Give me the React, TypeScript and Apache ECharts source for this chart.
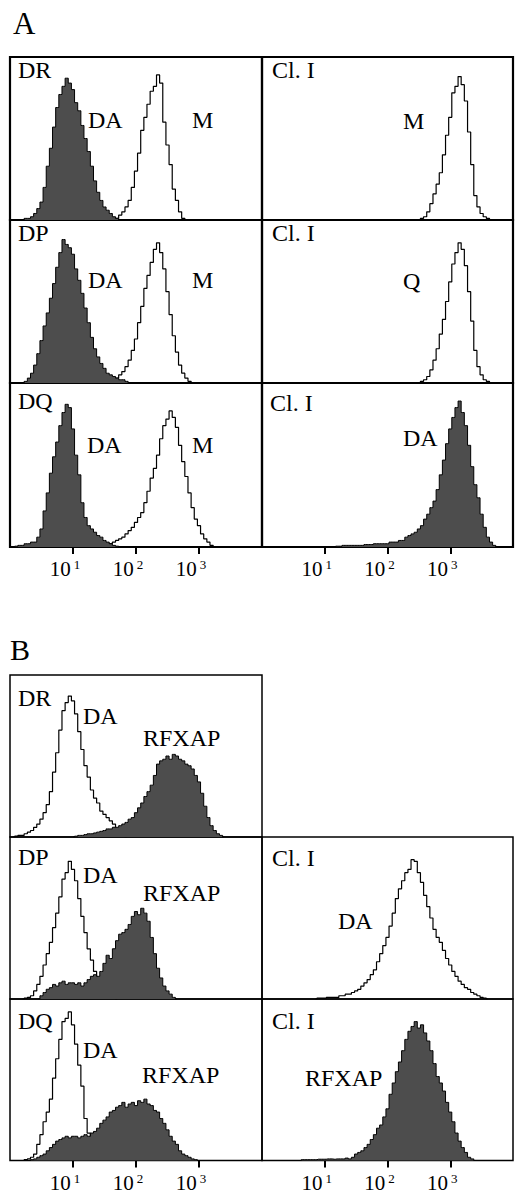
import React, { useEffect, useRef } from "react";
import * as echarts from "echarts";

// ---- histogram bin grid (20 channels per decade, 1 .. 10^4) ----
const MANTISSA = [1, 1.12, 1.26, 1.41, 1.58, 1.78, 2, 2.24, 2.51, 2.82, 3.16, 3.55, 3.98, 4.47, 5.01, 5.62, 6.31, 7.08, 7.94, 8.91];
const DECADES = [1, 10, 100, 1000];
const BINS: number[] = [...DECADES.flatMap((d) => MANTISSA.map((m) => +(m * d).toPrecision(3))), 10000];

// ---- tick labels (exponents of 10) ----
const TICK_EXPONENTS = [1, 2, 3];

// ---- panel A: counts (% of panel height) per bin, starting at *_START bin ----
const A_DR_DA_START = 4;
const A_DR_DA = [0, 1, 1, 2, 4, 7, 11, 20, 33, 44, 57, 69, 77, 82, 87, 84, 80, 72, 67, 58, 50, 42, 33, 24, 17, 12, 8, 6, 4, 2, 1, 0];
const A_DR_M_START = 33;
const A_DR_M = [0, 1, 3, 5, 8, 12, 20, 30, 41, 55, 63, 71, 79, 82, 89, 84, 60, 46, 34, 19, 12, 5, 1, 0];
const A_CL1_M_START = 50;
const A_CL1_M = [0, 1, 2, 5, 10, 16, 22, 29, 40, 52, 63, 78, 82, 88, 83, 73, 54, 34, 15, 8, 4, 2, 1, 0];

const A_DP_DA_START = 4;
const A_DP_DA = [0, 1, 3, 6, 11, 18, 26, 35, 43, 52, 61, 71, 80, 88, 85, 83, 79, 70, 63, 55, 46, 37, 28, 21, 16, 12, 9, 6, 5, 4, 3, 2, 2, 1, 0];
const A_DP_M_START = 31;
const A_DP_M = [0, 1, 2, 3, 5, 7, 10, 14, 20, 27, 37, 47, 58, 66, 74, 82, 86, 80, 70, 56, 42, 29, 19, 11, 6, 3, 1, 0];
const A_CL2_Q_START = 50;
const A_CL2_Q = [0, 1, 2, 4, 8, 14, 21, 30, 39, 50, 62, 73, 80, 86, 82, 72, 56, 38, 20, 10, 5, 2, 1, 0];

const A_DQ_DA_START = 1;
const A_DQ_DA = [0, 0.5, 1, 1, 2, 2, 3, 3, 6, 11, 22, 33, 45, 55, 64, 74, 82, 87, 85, 72, 56, 44, 27, 18, 13, 11, 9, 7, 6, 4, 3, 2, 1, 0.5, 0];
const A_DQ_M_START = 30;
const A_DQ_M = [0, 1, 2, 3, 4, 5, 6, 8, 10, 12, 15, 18, 21, 27, 34, 42, 48, 56, 66, 74, 78, 83, 79, 73, 62, 52, 43, 33, 24, 17, 13, 8, 5, 3, 1, 0];
const A_CL3_DA_START = 23;
const A_CL3_DA = [0, 0.5, 0.5, 1, 1, 1, 1, 1, 1, 1, 1.5, 1.5, 1.5, 2, 2, 2, 2, 2, 3, 3, 3, 4, 4, 6, 7, 8, 9, 11, 13, 17, 20, 24, 28, 35, 44, 53, 63, 72, 79, 85, 89, 82, 74, 62, 49, 38, 30, 20, 12, 6, 3, 1, 0];

// ---- panel B ----
const B_DR_DA_START = 1;
const B_DR_DA = [0, 0.5, 1, 1, 2, 3, 4, 6, 8, 11, 15, 20, 28, 40, 52, 66, 78, 83, 87, 84, 76, 65, 54, 44, 37, 29, 24, 21, 16, 14, 12, 10, 8, 5, 3, 1, 0];
const B_DR_RFXAP_START = 20;
const B_DR_RFXAP = [0, 0.5, 1, 1, 1.5, 2, 2, 2.5, 3, 3.5, 4, 5, 5, 6, 6, 7, 8, 9, 11, 12, 15, 18, 21, 25, 28, 32, 38, 45, 47, 48, 50, 48, 51, 50, 48, 47, 45, 44, 42, 38, 34, 27, 19, 12, 7, 4, 2, 1, 0];

const B_DP_DA_START = 4;
const B_DP_DA = [0, 0.5, 1, 2, 5, 9, 14, 21, 28, 35, 44, 53, 63, 74, 78, 85, 80, 73, 62, 51, 41, 31, 24, 17, 13, 10, 7, 4, 2, 1, 0];
const B_DP_RFXAP_START = 9;
const B_DP_RFXAP = [0, 2, 4, 6, 7, 9, 8, 10, 11, 9, 10, 10, 9, 10, 8, 10, 12, 14, 15, 14, 17, 22, 27, 25, 31, 36, 40, 41, 43, 46, 51, 54, 52, 56, 53, 48, 38, 28, 19, 13, 8, 5, 3, 1, 0];
const B_CL2_DA_START = 17;
const B_CL2_DA = [0, 0.5, 0.5, 0.5, 1, 1, 1, 1, 2, 2, 3, 3, 4, 5, 6, 8, 10, 12, 15, 18, 23, 28, 33, 38, 45, 53, 62, 68, 73, 78, 80, 86, 85, 78, 72, 64, 57, 50, 43, 38, 35, 30, 25, 21, 17, 14, 11, 9, 7, 6, 4, 3, 2, 1, 0.5, 0];

const B_DQ_DA_START = 4;
const B_DQ_DA = [0, 0.5, 1, 2, 4, 10, 16, 24, 30, 38, 51, 63, 75, 86, 88, 92, 84, 72, 59, 46, 26, 17, 11, 7, 4, 2, 0];
const B_DQ_RFXAP_START = 6;
const B_DQ_RFXAP = [0, 0.5, 1, 2, 3, 4, 6, 8, 10, 12, 13, 14, 15, 14, 15, 15, 14, 15, 16, 15, 17, 18, 20, 23, 25, 27, 30, 31, 33, 34, 36, 33, 35, 36, 34, 37, 36, 38, 35, 34, 31, 30, 26, 23, 19, 15, 12, 10, 6, 4, 3, 2, 1, 0.5, 0];
const B_CL3_RFXAP_START = 12;
const B_CL3_RFXAP = [0, 0.5, 0.5, 0.5, 0.5, 0.5, 0.8, 0.8, 0.8, 1, 1, 0.8, 1, 1, 1, 1.5, 1, 2, 4, 5, 6, 8, 10, 13, 16, 20, 22, 27, 32, 41, 48, 55, 61, 68, 75, 80, 83, 86, 82, 84, 79, 74, 68, 60, 52, 48, 43, 36, 30, 24, 17, 12, 8, 5, 2, 1, 0];

// ---- layout ----
const SERIF = "Liberation Serif";
const FILL = "#4d4d4d";
const A_BORDER = 2.2;
const B_BORDER = 1.5;

type Panel = { left: number; top: number; width: number; height: number; border: number; ticks: boolean };
const PANELS: Panel[] = [
  { left: 10, top: 57, width: 252, height: 163, border: A_BORDER, ticks: false }, // 0 A DR
  { left: 262, top: 57, width: 251, height: 163, border: A_BORDER, ticks: false }, // 1 A Cl I
  { left: 10, top: 220, width: 252, height: 163, border: A_BORDER, ticks: false }, // 2 A DP
  { left: 262, top: 220, width: 251, height: 163, border: A_BORDER, ticks: false }, // 3 A Cl I
  { left: 10, top: 383, width: 252, height: 164, border: A_BORDER, ticks: true }, // 4 A DQ
  { left: 262, top: 383, width: 251, height: 164, border: A_BORDER, ticks: true }, // 5 A Cl I
  { left: 10, top: 675, width: 252, height: 162, border: B_BORDER, ticks: false }, // 6 B DR
  { left: 10, top: 837, width: 252, height: 162, border: B_BORDER, ticks: false }, // 7 B DP
  { left: 262, top: 837, width: 251, height: 162, border: B_BORDER, ticks: false }, // 8 B Cl I
  { left: 10, top: 999, width: 252, height: 163, border: B_BORDER, ticks: true }, // 9 B DQ
  { left: 262, top: 999, width: 251, height: 163, border: B_BORDER, ticks: true }, // 10 B Cl I
];

type Curve = { panel: number; start: number; counts: number[]; filled: boolean };
const CURVES: Curve[] = [
  { panel: 0, start: A_DR_M_START, counts: A_DR_M, filled: false },
  { panel: 0, start: A_DR_DA_START, counts: A_DR_DA, filled: true },
  { panel: 1, start: A_CL1_M_START, counts: A_CL1_M, filled: false },
  { panel: 2, start: A_DP_M_START, counts: A_DP_M, filled: false },
  { panel: 2, start: A_DP_DA_START, counts: A_DP_DA, filled: true },
  { panel: 3, start: A_CL2_Q_START, counts: A_CL2_Q, filled: false },
  { panel: 4, start: A_DQ_M_START, counts: A_DQ_M, filled: false },
  { panel: 4, start: A_DQ_DA_START, counts: A_DQ_DA, filled: true },
  { panel: 5, start: A_CL3_DA_START, counts: A_CL3_DA, filled: true },
  { panel: 6, start: B_DR_DA_START, counts: B_DR_DA, filled: false },
  { panel: 6, start: B_DR_RFXAP_START, counts: B_DR_RFXAP, filled: true },
  { panel: 7, start: B_DP_DA_START, counts: B_DP_DA, filled: false },
  { panel: 7, start: B_DP_RFXAP_START, counts: B_DP_RFXAP, filled: true },
  { panel: 8, start: B_CL2_DA_START, counts: B_CL2_DA, filled: false },
  { panel: 9, start: B_DQ_DA_START, counts: B_DQ_DA, filled: false },
  { panel: 9, start: B_DQ_RFXAP_START, counts: B_DQ_RFXAP, filled: true },
  { panel: 10, start: B_CL3_RFXAP_START, counts: B_CL3_RFXAP, filled: true },
];

// text annotations: [text, x, middle-y, fontSize]
const LABELS: [string, number, number, number][] = [
  ["A", 13, 23, 31],
  ["DR", 18, 70, 24], ["DA", 88, 120, 24], ["M", 192, 120, 24],
  ["Cl. I", 272, 70, 24], ["M", 403, 121, 24],
  ["DP", 18, 233, 24], ["DA", 88, 280, 24], ["M", 192, 280, 24],
  ["Cl. I", 272, 233, 24], ["Q", 403, 281, 24],
  ["DQ", 18, 401, 24], ["DA", 87, 445, 24], ["M", 192, 445, 24],
  ["Cl. I", 270, 403, 24], ["DA", 403, 438, 24],
  ["B", 10, 649, 30],
  ["DR", 18, 698, 24], ["DA", 83, 716, 24], ["RFXAP", 143, 738, 24],
  ["DP", 18, 857, 24], ["DA", 83, 875, 24], ["RFXAP", 143, 893, 24],
  ["Cl. I", 272, 858, 24], ["DA", 338, 921, 24],
  ["DQ", 18, 1021, 24], ["DA", 83, 1050, 24], ["RFXAP", 142, 1075, 24],
  ["Cl. I", 272, 1021, 24], ["RFXAP", 305, 1078, 24],
];

function buildOption(): echarts.EChartsCoreOption {
  const grid = PANELS.map((p) => ({
    left: p.left, top: p.top, width: p.width, height: p.height,
    show: true, borderColor: "#000", borderWidth: p.border, backgroundColor: "transparent",
  }));
  const xAxis: any[] = PANELS.map((_, i) => ({
    gridIndex: i, type: "log", logBase: 10, min: 1, max: 10000, show: false,
  }));
  PANELS.forEach((p, i) => {
    if (!p.ticks) return;
    xAxis.push({
      gridIndex: i, type: "value", min: 0, max: 4, position: "bottom",
      axisLine: { show: false }, splitLine: { show: false },
      axisTick: { show: true, customValues: TICK_EXPONENTS, length: 7, lineStyle: { color: "#000", width: 2 } },
      axisLabel: {
        customValues: TICK_EXPONENTS, margin: 11, color: "#000",
        fontFamily: SERIF, fontSize: 21,
        formatter: (v: number) => `{b|10}{s|${v}}`,
        rich: {
          b: { fontFamily: SERIF, fontSize: 21, lineHeight: 22, color: "#000" },
          s: { fontFamily: SERIF, fontSize: 13, lineHeight: 13, verticalAlign: "top", padding: [0, 16, 0, 3], color: "#000" },
        },
      },
    });
  });
  const yAxis = PANELS.map((_, i) => ({ gridIndex: i, type: "value", min: 0, max: 100, show: false }));
  const series = CURVES.map((c) => ({
    type: "line",
    xAxisIndex: c.panel, yAxisIndex: c.panel,
    step: "middle", symbol: "none", silent: true,
    data: c.counts.map((v, j) => [BINS[c.start + j], v]),
    lineStyle: { color: "#000", width: c.filled ? 1 : 1.2 },
    areaStyle: c.filled ? { color: FILL, opacity: 1 } : undefined,
    z: c.filled ? 3 : 2,
  }));
  const graphic = LABELS.map(([text, x, y, size]) => ({
    type: "text", x, y, silent: true,
    style: { text, fontFamily: SERIF, fontSize: size, fill: "#000", align: "left", verticalAlign: "middle" },
  }));
  return {
    animation: false, backgroundColor: "#fff",
    textStyle: { fontFamily: SERIF, color: "#000" },
    grid, xAxis, yAxis, series, graphic,
  };
}

export default function App() {
  const ref = useRef<HTMLDivElement>(null);
  useEffect(() => {
    if (!ref.current) return;
    const chart = echarts.init(ref.current, undefined, { renderer: "svg" });
    chart.setOption(buildOption());
    return () => chart.dispose();
  }, []);
  return (
    <div
      ref={ref}
      style={{ position: "absolute", left: 0, top: 0, width: 515, height: 1193, background: "#fff" }}
    />
  );
}
